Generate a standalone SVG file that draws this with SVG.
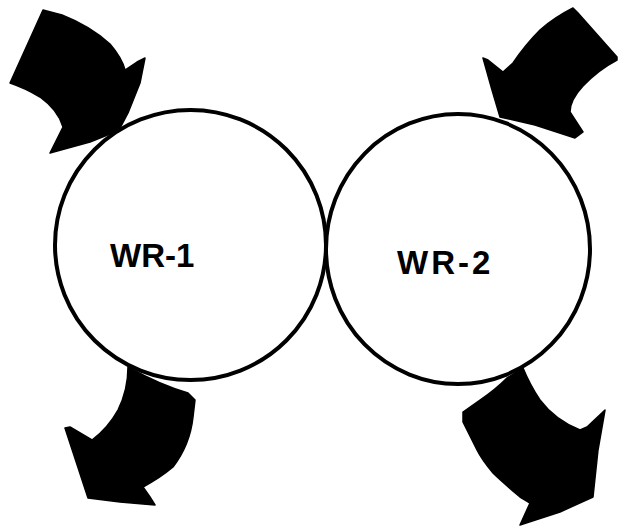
<svg xmlns="http://www.w3.org/2000/svg" width="618" height="528" viewBox="0 0 618 528">
<style>
.ring{fill:none;stroke:#000;stroke-width:4}
.arr{fill:#000;stroke:#000;stroke-width:1.5;stroke-linejoin:round}
.lbl{font-family:"Liberation Sans",Arial,sans-serif;font-weight:bold;font-size:33px;fill:#000}
</style>
<rect width="618" height="528" fill="#fff"/>
<g id="connectors">
<path class="arr" d="M43,10 L62,15 Q90,26 110,44 Q122,58 125,70 L137,62 L145,58 L140,83 L128,113 L118,132 L110,134 L90,142 L50,153 L63,127 Q58,110 40,97 Q25,88 10,83 Z"/>
<path class="arr" d="M573,8 L578,13 L617,57 L617,60 Q598,70 583,86 Q570,100 570,112 L583,132 L575,138 L535,125 L500,117 L492,90 L483,58 L488,60 L503,72 L513,63 Q525,45 540,30 Q555,17 573,8 Z"/>
<path class="arr" d="M128,367 Q160,385 188,393 L195,400 L193,417 Q190,445 173,467 Q160,478 143,487 L150,497 L155,505 L120,502 L88,498 L65,428 L70,427 L92,440 Q108,428 118,410 Q128,390 128,367 Z"/>
<path class="arr" d="M463,412 L480,400 Q495,390 507,378 L523,368 Q530,385 540,400 Q555,420 580,430 L587,427 L605,410 L598,450 L593,497 L560,512 L520,525 L530,503 L520,497 Q500,480 493,473 Q482,460 477,450 L463,422 Z"/>
</g>
<g id="wr1">
<ellipse class="ring" cx="190.5" cy="245" rx="135.5" ry="135"/>
<text class="lbl" x="110" y="267">WR-1</text>
</g>
<g id="wr2">
<ellipse class="ring" cx="458" cy="249" rx="132" ry="135"/>
<text class="lbl" x="397" y="274" letter-spacing="3">WR-2</text>
</g>
</svg>
